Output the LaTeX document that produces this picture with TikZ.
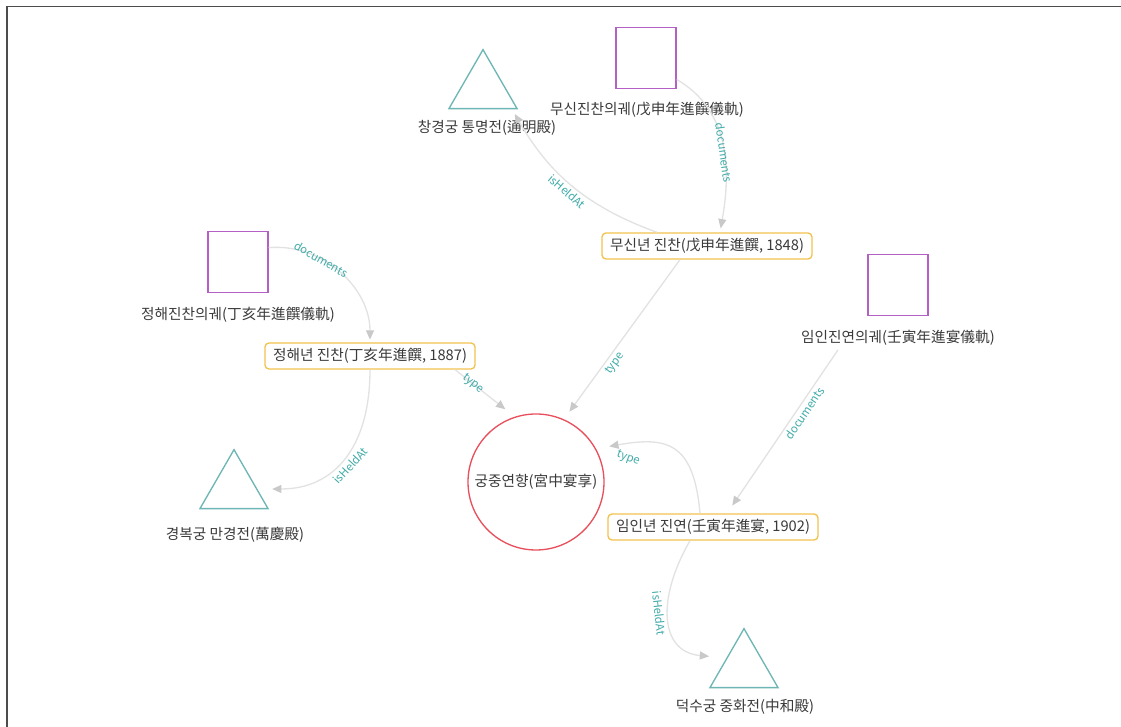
\documentclass[tikz,border=0pt]{standalone}
\usepackage{fontspec}
\setmainfont{Noto Sans CJK KR}
\usetikzlibrary{shapes.geometric,arrows.meta}
\definecolor{tric}{HTML}{6DB6B4}
\definecolor{sqc}{HTML}{B35FC4}
\definecolor{circc}{HTML}{E8505E}
\definecolor{evc}{HTML}{F2C24E}
\definecolor{txtc}{HTML}{3A3A3A}
\definecolor{labc}{HTML}{3FAAA8}
\definecolor{edgec}{HTML}{E2E2E2}
\definecolor{arrc}{HTML}{C9C9C9}
\tikzset{
  txt/.style={font=\fontsize{11}{12}\selectfont, text=txtc, inner sep=0pt},
  sqbox/.style={draw=sqc, line width=1.1pt, minimum width=45pt, minimum height=46pt, inner sep=0pt},
  tribox/.style={regular polygon, regular polygon sides=3, draw=tric, line width=1pt, minimum size=59pt, inner sep=0pt},
  circbox/.style={circle, draw=circc, line width=1pt, minimum size=102pt, inner sep=0pt, txt},
  evbox/.style={rectangle, rounded corners=3pt, draw=evc, line width=1pt, fill=white, minimum width=157.5pt, minimum height=19.5pt, inner sep=2pt, txt},
  lab/.style={font=\fontsize{8.5}{10}\selectfont, text=labc, inner sep=1pt},
  edge/.style={draw=edgec, line width=1pt, -{Triangle[length=7pt,width=6pt,color=arrc]}},
}
\begin{document}
\begin{tikzpicture}[x=0.75pt,y=0.75pt]
\useasboundingbox (0,0) rectangle (1121,727);
% frame
\draw[line width=1pt, black!70] (7,0) -- (7,720.5) -- (1121,720.5);
% nodes
\node[sqbox] (sq1) at (646,669) {};
\node[txt] (sq1lab) at (647,617) {무신진찬의궤(戊申年進饌儀軌)};
\node[sqbox] (sq2) at (238,465) {};
\node[txt] (sq2lab) at (238,412) {정해진찬의궤(丁亥年進饌儀軌)};
\node[sqbox] (sq3) at (898,442) {};
\node[txt] (sq3lab) at (898,389) {임인진연의궤(壬寅年進宴儀軌)};
\node[tribox] (tri1) at (483,638) {};
\node[txt] (tri1lab) at (487,599) {창경궁 통명전(通明殿)};
\node[tribox] (tri2) at (234,238) {};
\node[txt] (tri2lab) at (235,192) {경복궁 만경전(萬慶殿)};
\node[tribox] (tri3) at (744,59) {};
\node[txt] (tri3lab) at (745,20) {덕수궁 중화전(中和殿)};
\node[circbox] (circ) at (536,245) {궁중연향(宮中宴享)};
\node[evbox] (ev1) at (707,481) {무신년 진찬(戊申年進饌, 1848)};
\node[evbox] (ev2) at (370,371) {정해년 진찬(丁亥年進饌, 1887)};
\node[evbox] (ev3) at (713,200) {임인년 진연(壬寅年進宴, 1902)};
% edges
\draw[edge, shorten >=3pt] (sq1.-35) to[out=-30,in=80] node[lab,pos=0.55,sloped]{documents} ([shift={(13,0)}]ev1.north);
\draw[edge, shorten >=4pt] ([shift={(-50,0)}]ev1.north) to[out=160,in=-60] node[lab,pos=0.5,sloped,below=1pt]{isHeldAt} (tri1.-35);
\draw[edge, shorten >=7pt] ([shift={(-27,0)}]ev1.south) -- node[lab,pos=0.62,sloped,below=1pt]{type} (circ.66);
\draw[edge, shorten >=2pt] (sq2.25) to[out=5,in=90] node[lab,pos=0.35,sloped]{documents} (ev2.north);
\draw[edge, shorten >=9pt] ([shift={(85,0)}]ev2.south) -- node[lab,pos=0.3,sloped]{type} (circ.108);
\draw[edge, shorten >=11pt] (ev2.south) to[out=-90,in=0,looseness=1.2] node[lab,pos=0.5,sloped,below=3pt]{isHeldAt} (tri2.east);
\draw[edge, shorten >=7pt] ([shift={(-60,-4)}]sq3lab.south) -- node[lab,pos=0.36,sloped,below=1pt]{documents} ([shift={(14,0)}]ev3.north);
\draw[edge, shorten >=10pt] ([shift={(-13,0)}]ev3.north) to[out=95,in=10,looseness=1.5] node[lab,pos=0.8,rotate=-20,below=6pt]{type} (circ.29);
\draw[edge, shorten >=13pt] ([shift={(-23,0)}]ev3.south) to[out=-120,in=175,looseness=1.4] node[lab,pos=0.45,sloped,below=3pt]{isHeldAt} (tri3.150);
\end{tikzpicture}
\end{document}
